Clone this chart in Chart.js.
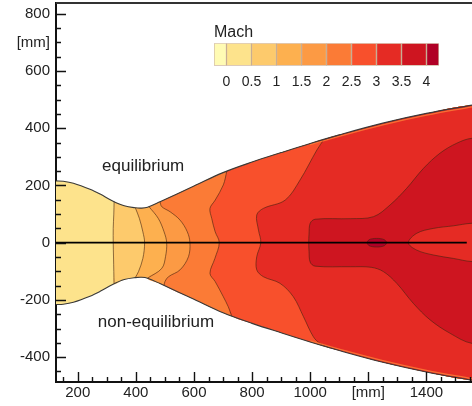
<!DOCTYPE html>
<html>
<head>
<meta charset="utf-8">
<script src="https://cdn.jsdelivr.net/npm/chart.js@4.4.1/dist/chart.umd.min.js"></script>
<style>
  html, body { margin: 0; padding: 0; background: #fff; }
  #wrap { position: relative; width: 472px; height: 406px; }
  #main { position: absolute; left: 0; top: 0; }
  #bar { position: absolute; left: 200px; top: 20px; }
</style>
</head>
<body>
<div id="wrap">
  <canvas id="main" width="472" height="406"></canvas>
  <canvas id="bar" width="260" height="72"></canvas>
</div>
<script>
// Nozzle wall: axial position [mm] and upper-half radius [mm]
const wallX = [125, 150, 185, 242, 277, 320, 360, 398, 420, 440, 483, 600, 700, 800, 900, 1000, 1100, 1250, 1400, 1557];
const wallR = [216, 215, 208, 187, 170, 146, 129, 122, 121, 124, 143, 198, 245, 282, 315, 347, 377, 418, 452, 481];
// thin slow layer along the wall in the last part of the divergent section
const layerX = [1000, 1100, 1250, 1400, 1557];
const layerR = [343, 372, 412, 446, 475];

// Mach iso-lines [x, r], each running from the upper wall to the lower wall
const mach05 = [[325, 144], [324, 100], [322, 50], [322, 0], [323, -50], [324, -100], [325, -144]];
const mach10 = [[398, 122], [412, 85], [424, 38], [430, 0], [424, -55], [409, -101], [398, -122]];
const mach15 = [[445, 126], [477, 85], [497, 38], [506, 0], [502, -49], [489, -90], [440, -124]];
const mach20 = [[483, 143], [489, 126], [518, 108], [552, 79], [577, 38], [586, 0], [581, -49], [552, -95], [512, -119], [500, -136], [497, -150]];
const mach25 = [[713, 250], [701, 202], [673, 149], [655, 120], [661, 85], [673, 38], [687, 0], [672, -55], [655, -107], [673, -136], [701, -189], [718, -224], [730, -256]];
const mach30 = [[1048, 362], [1023, 324], [965, 219], [914, 149], [839, 120], [816, 97], [822, 44], [830, 0], [816, -49], [816, -95], [839, -119], [896, -142], [942, -189], [977, -259], [1011, -329], [1034, -352], [1068, -368]];
// Mach 3.5 core, open towards the exit plane
const mach35 = [[1557, 365], [1505, 348], [1447, 313], [1390, 260], [1332, 190], [1275, 132], [1218, 91], [1138, 84], [1017, 82], [1000, 68], [996, 30], [995, 0], [996, -30], [1000, -68], [1017, -82], [1138, -84], [1210, -86], [1252, -101], [1298, -142], [1355, -212], [1413, -270], [1482, -317], [1557, -352]];
// slower wedge on the axis downstream of the core (back below Mach 3.5)
const wake35 = [[1557, 68], [1493, 59], [1424, 50], [1367, 33], [1338, 0], [1367, -26], [1424, -43], [1493, -55], [1557, -66]];
// small Mach 4 pocket on the axis
const mach40 = [[1195, 0], [1202, 10], [1215, 14], [1229, 15], [1243, 14], [1256, 10], [1263, 0], [1256, -10], [1243, -14], [1229, -15], [1215, -14], [1202, -10], [1195, 0]];
// symmetry axis
const centerLine = [[125, 0], [1539, 0]];

// Colour scale
const machLevels = [0, 0.5, 1, 1.5, 2, 2.5, 3, 3.5, 4];
const machLabels = ['0', '0.5', '1', '1.5', '2', '2.5', '3', '3.5', '4'];
const machColors = ['#FFFBB4', '#FDE38C', '#FDCA6C', '#FDB04F', '#FC9A44', '#FB7B36', '#F8502C', '#E52B24', '#CE1520', '#B00026'];

// Axis ticks and labels
const xTickValues = [200, 400, 600, 800, 1000, 1200, 1400];
const xTickLabels = ['200', '400', '600', '800', '1000', '[mm]', '1400'];
const yTickValues = [-400, -200, 0, 200, 400, 600, 700, 800];
const yTickLabels = ['-400', '-200', '0', '200', '400', '600', '[mm]', '800'];

const FONT = "'Liberation Sans', Arial, Helvetica, sans-serif";
const LINE_COLOR = 'rgba(70, 35, 15, 0.6)';
const TENSION = 0.35;
const EXIT = wallX[wallX.length - 1];
const OUTSIDE = 120; // shapes are closed this far past the exit plane, out of view

const toPts = arr => arr.map(([x, r]) => ({x: x, y: r}));

// carry a shape that ends on the exit plane straight on past it,
// so its closing edge (and the curve smoothing there) stays out of view
function closeOutside(pts) {
  const out = pts.slice();
  const first = out[0], last = out[out.length - 1];
  if (last.x >= EXIT) out.push({x: EXIT + OUTSIDE, y: last.y});
  if (first.x >= EXIT) out.unshift({x: EXIT + OUTSIDE, y: first.y});
  return out;
}

// whole nozzle cross-section (lower wall out, upper wall back)
function nozzleShape() {
  const pts = wallX.map((x, i) => ({x: x, y: -wallR[i]}));
  pts.push({x: EXIT + OUTSIDE, y: -wallR[wallR.length - 1]});
  pts.push({x: EXIT + OUTSIDE, y: wallR[wallR.length - 1]});
  for (let i = wallX.length - 1; i >= 0; i--) pts.push({x: wallX[i], y: wallR[i]});
  return pts;
}

// region downstream of an iso-line: the line itself, then the walls past the exit
function downstreamRegion(line) {
  const top = line[0], bot = line[line.length - 1];
  const pts = toPts(line);
  wallX.forEach((x, i) => { if (x > bot[0]) pts.push({x: x, y: -wallR[i]}); });
  pts.push({x: EXIT + OUTSIDE, y: -wallR[wallR.length - 1]});
  pts.push({x: EXIT + OUTSIDE, y: wallR[wallR.length - 1]});
  for (let i = wallX.length - 1; i >= 0; i--) {
    if (wallX[i] > top[0]) pts.push({x: wallX[i], y: wallR[i]});
  }
  return pts;
}

const fills = [
  {pts: nozzleShape(), color: machColors[1]},
  {pts: downstreamRegion(mach05), color: machColors[2]},
  {pts: downstreamRegion(mach10), color: machColors[3]},
  {pts: downstreamRegion(mach15), color: machColors[4]},
  {pts: downstreamRegion(mach20), color: machColors[5]},
  {pts: downstreamRegion(mach25), color: machColors[6]},
  {pts: downstreamRegion(mach30), color: machColors[7]},
  {pts: closeOutside(toPts(mach35)), color: machColors[8]},
  {pts: closeOutside(toPts(wake35)), color: machColors[7]},
  {pts: toPts(mach40), color: machColors[9]}
];

const datasets = [];
fills.forEach(f => datasets.push({
  data: f.pts, showLine: true, fill: 'shape', backgroundColor: f.color,
  borderWidth: 0, pointRadius: 0, tension: TENSION
}));
[mach05, mach10, mach15, mach20, mach25, mach30, mach35, wake35, mach40].forEach(l => datasets.push({
  data: closeOutside(toPts(l)), showLine: true, fill: false, borderColor: LINE_COLOR,
  borderWidth: 1, pointRadius: 0, tension: TENSION
}));
// slow wall layer, upper and lower
[1, -1].forEach(s => datasets.push({
  data: layerX.map((x, i) => ({x: x, y: s * layerR[i]})), showLine: true, fill: false,
  borderColor: 'rgba(251, 123, 54, 0.85)', borderWidth: 1.3, pointRadius: 0, tension: TENSION
}));
// walls
[1, -1].forEach(s => datasets.push({
  data: wallX.map((x, i) => ({x: x, y: s * wallR[i]})), showLine: true, fill: false,
  borderColor: '#3a3a3a', borderWidth: 1.1, pointRadius: 0, tension: TENSION
}));
// axis of symmetry
datasets.push({
  data: toPts(centerLine), showLine: true, fill: false,
  borderColor: '#000', borderWidth: 1.8, pointRadius: 0, tension: 0
});
// first dataset at the bottom of the stack
datasets.forEach((d, i) => { d.order = datasets.length - i; });

// inward major/minor tick marks on the left and bottom axes, plus the top frame line
const tickMarks = {
  id: 'tickMarks',
  afterDatasetsDraw(chart) {
    const {ctx, chartArea: a, scales: {x, y}} = chart;
    ctx.save();
    ctx.strokeStyle = '#111';
    ctx.lineWidth = 1.4;
    ctx.beginPath();
    for (let v = 150; v <= 1550; v += 50) {
      const px = Math.round(x.getPixelForValue(v)) + 0.5;
      const len = v % 200 === 0 ? 10 : 5;
      ctx.moveTo(px, a.bottom);
      ctx.lineTo(px, a.bottom - len);
    }
    for (let v = -450; v <= 800; v += 50) {
      const py = Math.round(y.getPixelForValue(v)) + 0.5;
      const len = v % 200 === 0 ? 10 : 5;
      ctx.moveTo(a.left, py);
      ctx.lineTo(a.left + len, py);
    }
    ctx.stroke();
    ctx.strokeStyle = '#333';
    ctx.lineWidth = 2;
    ctx.beginPath();
    ctx.moveTo(a.left, a.top);
    ctx.lineTo(a.right, a.top);
    ctx.stroke();
    ctx.restore();
  }
};

// case labels for the two halves
const caseLabels = {
  id: 'caseLabels',
  afterDatasetsDraw(chart, args, opts) {
    const {ctx, scales: {x, y}} = chart;
    ctx.save();
    ctx.font = '17px ' + FONT;
    ctx.fillStyle = '#222';
    ctx.textAlign = 'center';
    ctx.textBaseline = 'middle';
    opts.items.forEach(it => ctx.fillText(it.text, x.getPixelForValue(it.x), y.getPixelForValue(it.y)));
    ctx.restore();
  }
};

new Chart(document.getElementById('main'), {
  type: 'scatter',
  data: {datasets: datasets},
  options: {
    responsive: false,
    animation: false,
    devicePixelRatio: 1,
    layout: {padding: {top: 3, left: 0, right: 0, bottom: 0}},
    elements: {point: {radius: 0}},
    plugins: {
      legend: {display: false},
      tooltip: {enabled: false},
      caseLabels: {items: [
        {text: 'equilibrium', x: 425, y: 268},
        {text: 'non-equilibrium', x: 469, y: -277}
      ]}
    },
    scales: {
      x: {
        type: 'linear', position: 'bottom', min: 125, max: 1557, bounds: 'data',
        afterBuildTicks: s => { s.ticks = xTickValues.map(v => ({value: v})); },
        afterFit: s => { s.height = 24; s.paddingLeft = 0; s.paddingRight = 0; },
        ticks: {
          autoSkip: false, maxRotation: 0, padding: 2, color: '#222',
          font: {family: FONT, size: 15},
          callback: v => xTickLabels[xTickValues.indexOf(v)]
        },
        grid: {display: false, drawTicks: false},
        border: {display: true, color: '#111', width: 2}
      },
      y: {
        type: 'linear', position: 'left', min: -487, max: 838, bounds: 'data',
        afterBuildTicks: s => { s.ticks = yTickValues.map(v => ({value: v})); },
        afterFit: s => { s.width = 56; s.paddingTop = 0; s.paddingBottom = 0; },
        ticks: {
          autoSkip: false, padding: 6, color: '#222',
          font: {family: FONT, size: 15},
          callback: v => yTickLabels[yTickValues.indexOf(v)]
        },
        grid: {display: false, drawTicks: false},
        border: {display: true, color: '#111', width: 2}
      }
    }
  },
  plugins: [tickMarks, caseLabels]
});

// Colour bar: one floating bar per Mach band
const bandEdges = [machLevels[0] - 0.25].concat(machLevels, [machLevels[machLevels.length - 1] + 0.25]);
const bandSets = machColors.map((c, i) => ({
  data: [[bandEdges[i], bandEdges[i + 1]]],
  backgroundColor: c,
  borderColor: 'rgba(150, 100, 50, 0.45)',
  borderWidth: 1,
  borderSkipped: false,
  grouped: false,
  barPercentage: 1,
  categoryPercentage: 1
}));

new Chart(document.getElementById('bar'), {
  type: 'bar',
  data: {labels: ['Mach'], datasets: bandSets},
  options: {
    indexAxis: 'y',
    responsive: false,
    animation: false,
    devicePixelRatio: 1,
    layout: {padding: {left: 14, right: 21, top: 0, bottom: 0}},
    plugins: {
      legend: {display: false},
      tooltip: {enabled: false},
      title: {
        display: true, text: 'Mach', align: 'start', color: '#222',
        font: {family: FONT, size: 16, weight: 'normal'},
        padding: {top: 3, bottom: 1}
      }
    },
    scales: {
      x: {
        type: 'linear', min: bandEdges[0], max: bandEdges[bandEdges.length - 1], bounds: 'data',
        afterBuildTicks: s => { s.ticks = machLevels.map(v => ({value: v})); },
        afterFit: s => { s.height = 26.3; s.paddingLeft = 0; s.paddingRight = 0; },
        ticks: {
          autoSkip: false, maxRotation: 0, padding: 8, color: '#222',
          font: {family: FONT, size: 14},
          callback: v => machLabels[machLevels.indexOf(v)]
        },
        grid: {display: false, drawTicks: false},
        border: {display: false}
      },
      y: {display: false}
    }
  }
});
</script>
</body>
</html>
